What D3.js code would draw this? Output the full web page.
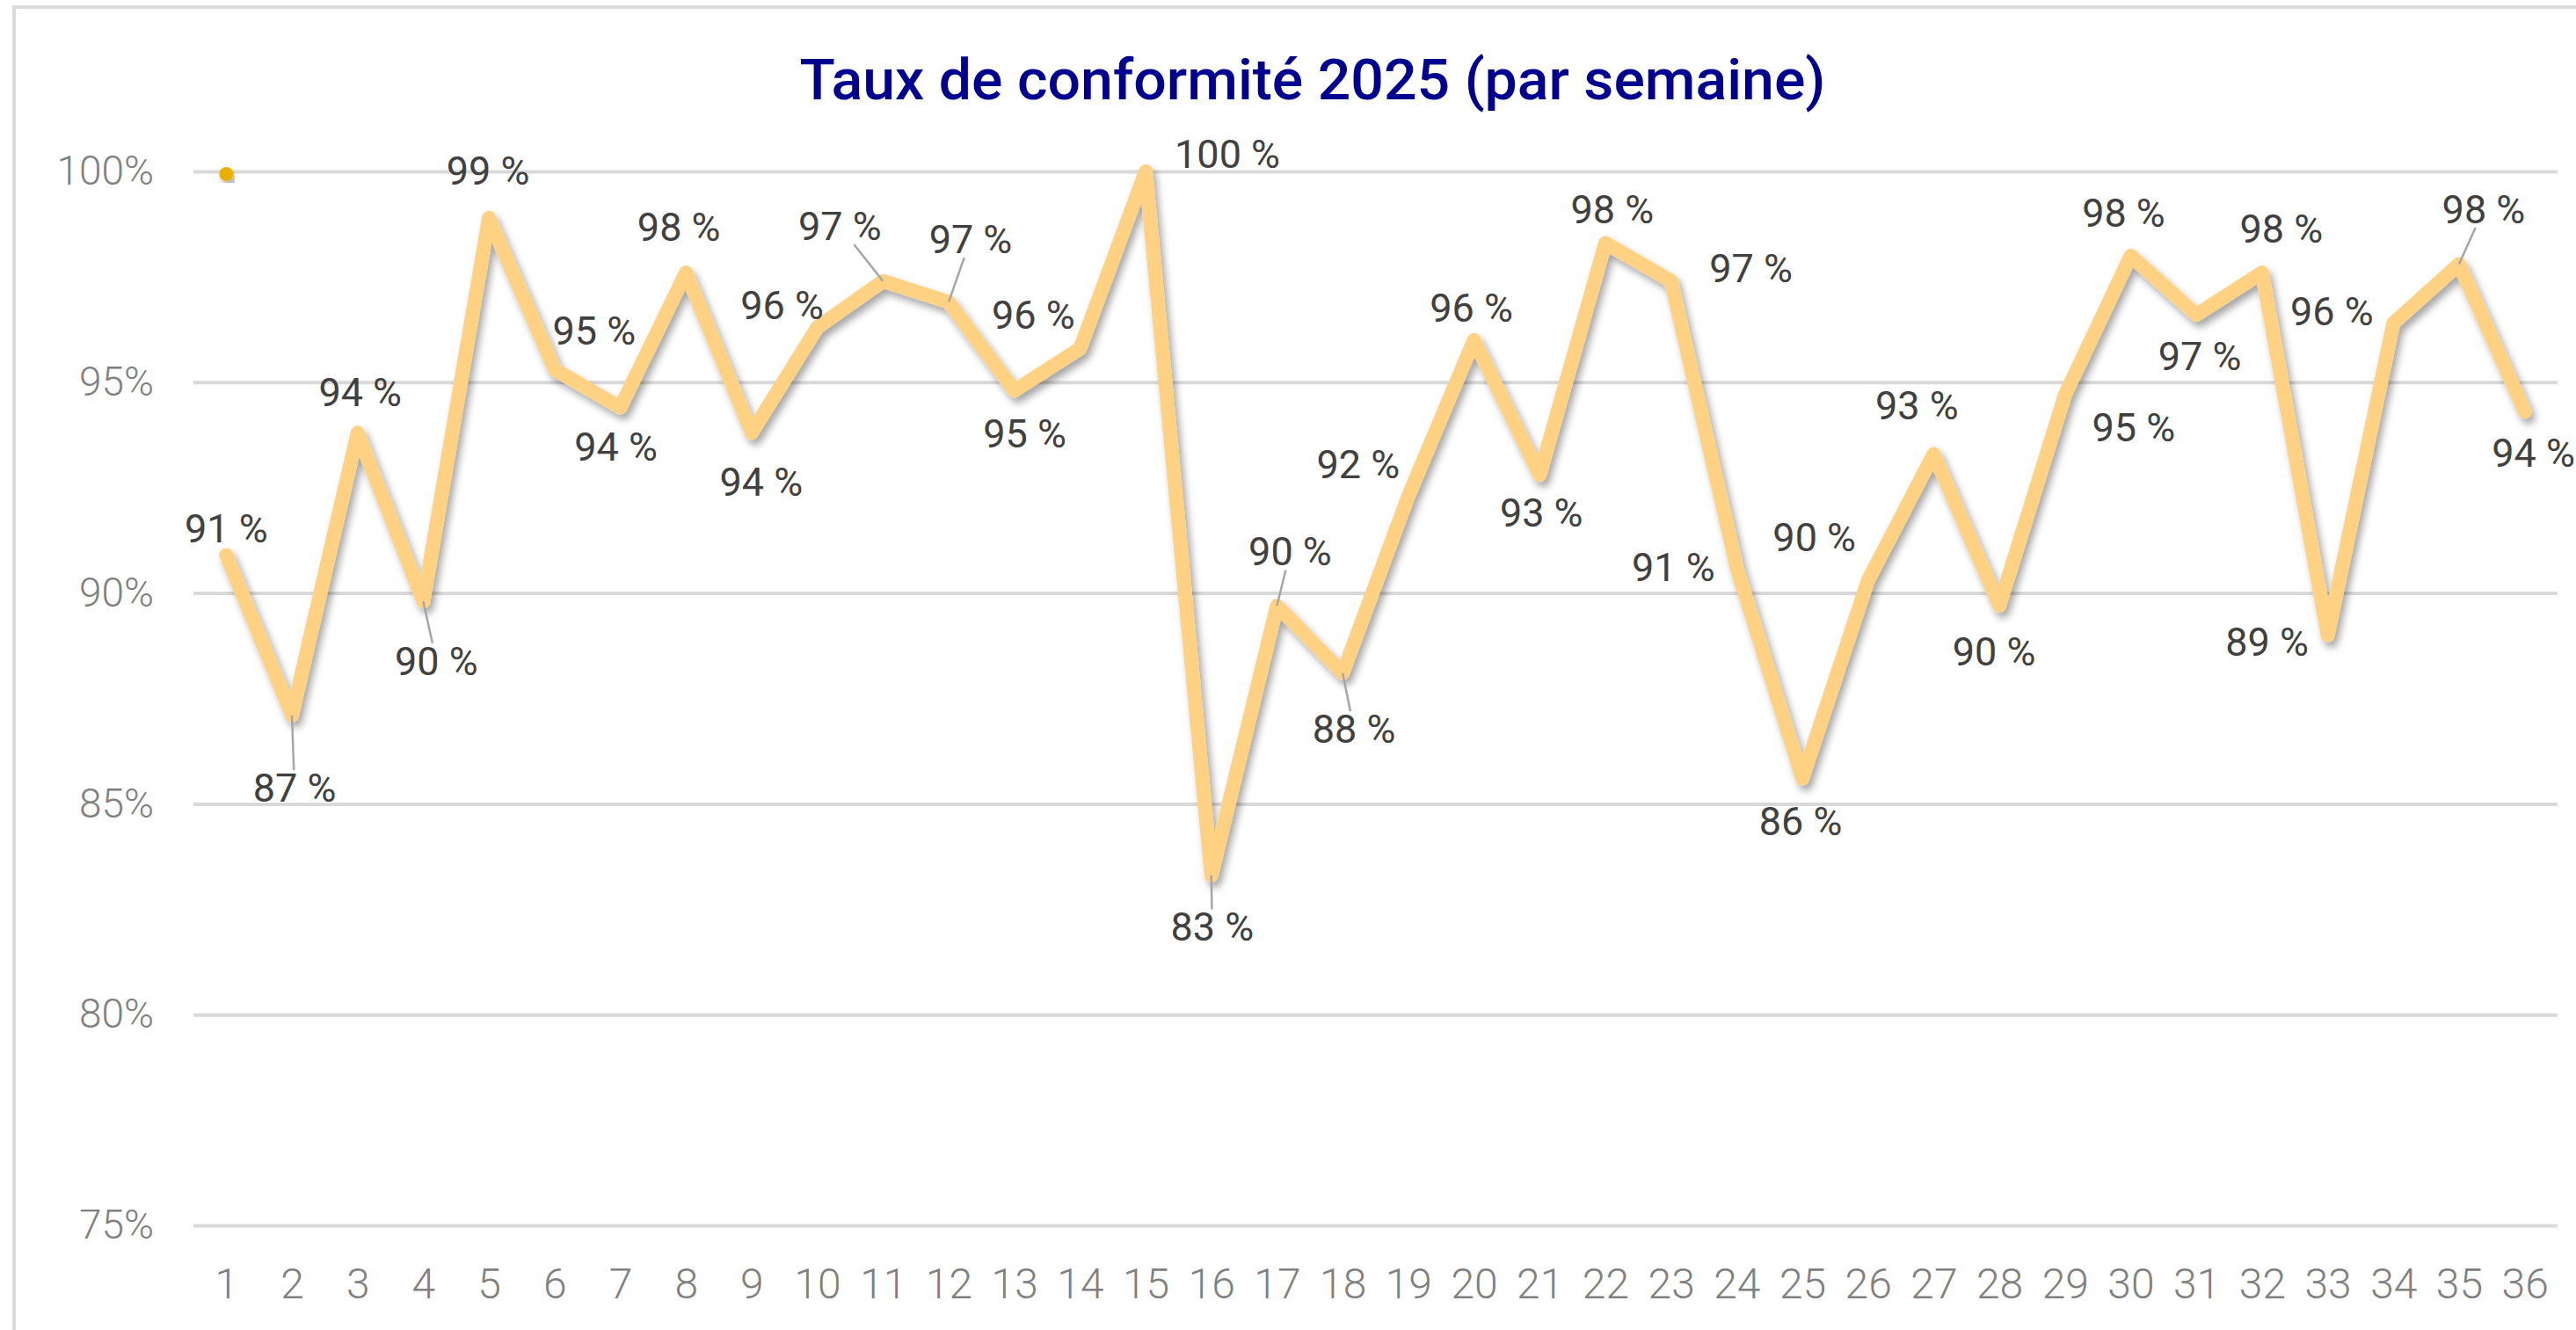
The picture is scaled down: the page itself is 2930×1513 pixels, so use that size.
<!DOCTYPE html>
<html>
<head>
<meta charset="utf-8">
<script src="https://cdn.jsdelivr.net/npm/d3@7"></script>
<style>
  body { margin: 0; background: #fff; overflow: hidden; }
  svg { display: block; }
</style>
</head>
<body>
<svg id="chart"></svg>
<script>
// weekly compliance rate 2025
var weeks = ["1", "2", "3", "4", "5", "6", "7", "8", "9", "10", "11", "12",
  "13", "14", "15", "16", "17", "18", "19", "20", "21", "22", "23", "24",
  "25", "26", "27", "28", "29", "30", "31", "32", "33", "34", "35", "36"];

var rates = [90.9, 87.1, 93.8, 89.8, 98.9, 95.3, 94.4, 97.6, 93.8, 96.3, 97.4, 96.9,
  94.8, 95.8, 100, 83.3, 89.7, 88.1, 92.3, 96.0, 92.8, 98.3, 97.4, 90.6,
  85.6, 90.3, 93.3, 89.7, 94.7, 98.0, 96.6, 97.6, 89.0, 96.4, 97.8, 94.3];

// the lone gold marker sitting on 100% at week 1
var targetWeeks = ["1"];
var targetRates = [100];

var yTicks = [75, 80, 85, 90, 95, 100];

var title = "Taux de conformité 2025 (par semaine)";

// label nudges from each point (px), the labels were dragged around by hand
var labelNudge = [[0, -30], [3, 83], [3, -46], [15, 68], [-1, -53], [45, -44],
  [-5, 45], [-8, -52], [11, 56], [-40, -25], [-49, -62], [25, -71],
  [12, 49], [-53, -38], [93, -20], [1, 59], [15, -61], [13, 64],
  [-57, -36], [-3, -36], [2, 43], [8, -38], [91, -14], [-72, 0],
  [-2, 49], [-61, -49], [-19, -55], [-6, 53], [78, 37], [-8, -48],
  [4, 47], [22, -50], [-69, 8], [-70, -13], [28, -62], [10, 47]];

// weeks whose label has a leader line back to the point
var leaderWeeks = ["2", "4", "11", "12", "16", "17", "18", "35"];

var width = 2930,
  height = 1513;

var plot = { left: 220, right: 2909, top: 195, bottom: 1394 };

var svg = d3.select("#chart")
  .attr("width", width)
  .attr("height", height);

var defs = svg.append("defs");
var shadow = defs.append("filter")
  .attr("id", "shadow")
  .attr("x", "-10%").attr("y", "-10%")
  .attr("width", "120%").attr("height", "120%");
shadow.append("feDropShadow")
  .attr("dx", 4).attr("dy", 6)
  .attr("stdDeviation", 4)
  .attr("flood-color", "#000")
  .attr("flood-opacity", 0.35);

// chart area frame (right and bottom edges fall outside the picture)
svg.append("rect")
  .attr("x", 16).attr("y", 8)
  .attr("width", width + 20).attr("height", height + 20)
  .attr("fill", "#fff")
  .attr("stroke", "#d9d9d9")
  .attr("stroke-width", 4);

var x = d3.scalePoint()
  .domain(weeks)
  .range([plot.left, plot.right])
  .padding(0.5);

var y = d3.scaleLinear()
  .domain([75, 100])
  .range([plot.bottom, plot.top]);

// y axis + gridlines
var yAxis = svg.append("g")
  .attr("transform", "translate(" + plot.left + ",0)")
  .call(d3.axisLeft(y)
    .tickValues(yTicks)
    .tickSize(-(plot.right - plot.left))
    .tickPadding(45)
    .tickFormat(function(d) { return d + "%"; }));
yAxis.select(".domain").remove();
yAxis.selectAll(".tick line")
  .attr("stroke", "#d9d9d9")
  .attr("stroke-width", 4);
yAxis.selectAll(".tick text")
  .attr("fill", "#808080")
  .style("font-family", "Roboto, 'Open Sans', sans-serif")
  .style("font-weight", 300)
  .style("font-size", "46px");

// x axis, labels only
var xAxis = svg.append("g")
  .attr("transform", "translate(0," + plot.bottom + ")")
  .call(d3.axisBottom(x).tickSize(0).tickPadding(49));
xAxis.select(".domain").remove();
xAxis.selectAll(".tick text")
  .attr("fill", "#808080")
  .style("font-family", "Roboto, 'Open Sans', sans-serif")
  .style("font-weight", 300)
  .style("font-size", "48px");

// the line
var valueline = d3.line()
  .x(function(d, i) { return x(weeks[i]); })
  .y(function(d) { return y(d); });

svg.append("path")
  .datum(rates)
  .attr("d", valueline)
  .attr("fill", "none")
  .attr("stroke", "#ffd283")
  .attr("stroke-width", 16)
  .attr("stroke-linejoin", "round")
  .attr("stroke-linecap", "round")
  .attr("filter", "url(#shadow)");

svg.selectAll(".target")
  .data(targetRates)
  .enter().append("circle")
  .attr("class", "target")
  .attr("cx", function(d, i) { return x(targetWeeks[i]); })
  .attr("cy", function(d) { return y(d) + 3; })
  .attr("r", 8)
  .attr("fill", "#e8b100")
  .attr("filter", "url(#shadow)");

var leaders = svg.append("g");

// data labels
var labels = svg.append("g")
  .selectAll("text")
  .data(rates)
  .enter().append("text")
  .attr("x", function(d, i) { return x(weeks[i]) + labelNudge[i][0]; })
  .attr("y", function(d, i) { return y(d) + labelNudge[i][1]; })
  .attr("text-anchor", "middle")
  .attr("dominant-baseline", "central")
  .attr("fill", "#404040")
  .style("font-family", "Roboto, 'Open Sans', sans-serif")
  .style("font-size", "45px")
  .text(function(d) { return Math.round(d) + " %"; });

// leader lines from label box edge to the point
labels.each(function(d, i) {
  if (leaderWeeks.indexOf(weeks[i]) < 0) return;
  var b = this.getBBox();
  var cx = b.x + b.width / 2,
    cy = b.y + b.height / 2;
  var px = x(weeks[i]),
    py = y(d);
  var hw = b.width / 2 - 6,
    hh = b.height / 2 - 6;
  var ddx = px - cx,
    ddy = py - cy;
  var t = Math.min(
    ddx === 0 ? Infinity : hw / Math.abs(ddx),
    ddy === 0 ? Infinity : hh / Math.abs(ddy));
  leaders.append("line")
    .attr("x1", cx + ddx * t)
    .attr("y1", cy + ddy * t)
    .attr("x2", px)
    .attr("y2", py)
    .attr("stroke", "#a6a6a6")
    .attr("stroke-width", 2.5);
});

// title
svg.append("text")
  .attr("x", 1493)
  .attr("y", 113)
  .attr("text-anchor", "middle")
  .attr("fill", "#000090")
  .attr("textLength", 1167)
  .attr("lengthAdjust", "spacingAndGlyphs")
  .style("font-family", "Roboto, 'Open Sans', sans-serif")
  .style("font-weight", 500)
  .style("font-size", "64px")
  .text(title);
</script>
</body>
</html>
